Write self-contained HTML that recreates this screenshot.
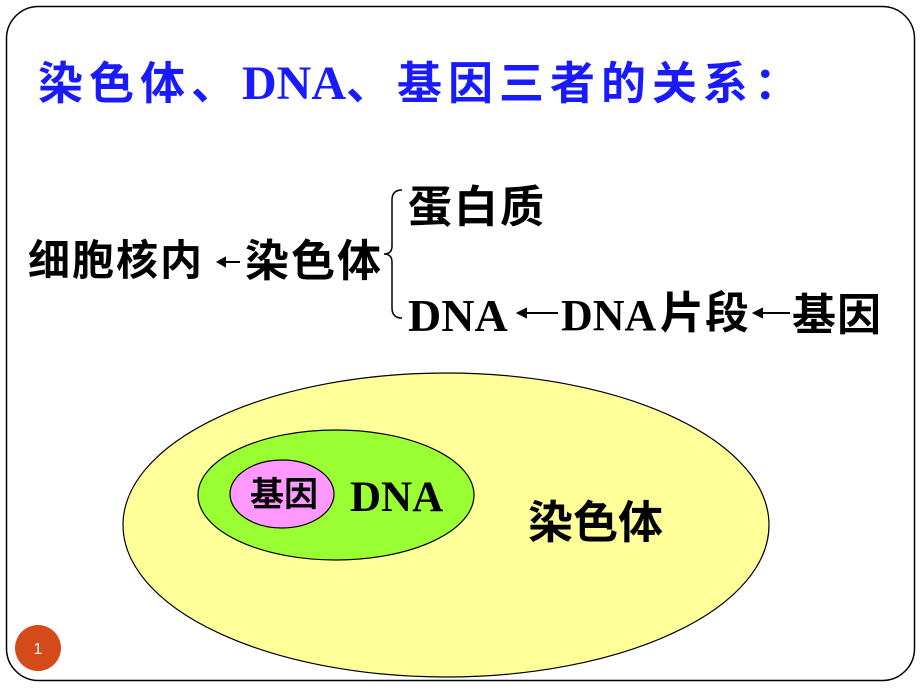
<!DOCTYPE html>
<html><head><meta charset="utf-8"><style>
body{margin:0;width:920px;height:690px;background:#fff;position:relative;overflow:hidden;font-family:"Liberation Sans","Noto Sans CJK SC",sans-serif}
.t{position:absolute;white-space:nowrap;font-weight:bold;line-height:1}
.s{font-family:"Liberation Serif","Noto Sans CJK SC",serif}
</style></head><body>
<svg width="920" height="690" style="position:absolute;left:0;top:0">
<rect x="6.5" y="6.5" width="908" height="674" rx="32" fill="#fff" stroke="#000" stroke-width="1.5"/>
<ellipse cx="446" cy="525" rx="323" ry="152" fill="#ffff99" stroke="#000" stroke-width="1.2"/>
<ellipse cx="336" cy="495" rx="138" ry="65" fill="#99ff33" stroke="#000" stroke-width="1.2"/>
<ellipse cx="282" cy="494" rx="52" ry="34" fill="#ff99ff" stroke="#000" stroke-width="1.2"/>
<path d="M402 190 q-10 0 -10 10 v46 q0 8 -8 8 q8 0 8 8 v46 q0 10 10 10" fill="none" stroke="#000" stroke-width="1.5"/>
<g stroke="#000" stroke-width="2" fill="#000">
<line x1="222" y1="262" x2="240" y2="262"/><path d="M218 262 l7 -4 v8z"/>
<line x1="524" y1="313" x2="558" y2="313"/><path d="M518 313 l8 -4 v8z"/>
<line x1="760" y1="313" x2="790" y2="313"/><path d="M754 313 l8 -4 v8z"/>
</g>
<circle cx="38" cy="648" r="23" fill="#d54a1a"/>
<text x="38" y="654" font-size="16" fill="#fff" text-anchor="middle" font-family="Liberation Sans">1</text>
</svg>
<div class="t" style="left:38px;top:60px;font-size:45px;letter-spacing:6px;color:#1a1aff">染色体、<span class="s" style="font-size:48px;letter-spacing:0">DNA</span>、基因三者的关系：</div>
<div class="t" style="left:28px;top:240px;font-size:42px;letter-spacing:2px">细胞核内</div>
<div class="t" style="left:245px;top:240px;font-size:44px;letter-spacing:2px">染色体</div>
<div class="t" style="left:408px;top:186px;font-size:44px;letter-spacing:2px">蛋白质</div>
<div class="t s" style="left:408px;top:293px;font-size:46px">DNA</div>
<div class="t s" style="left:561px;top:294px;font-size:44px">DNA</div>
<div class="t" style="left:660px;top:292px;font-size:44px;letter-spacing:1px">片段</div>
<div class="t" style="left:792px;top:294px;font-size:44px;letter-spacing:1px">基因</div>
<div class="t" style="left:250px;top:478px;font-size:34px">基因</div>
<div class="t s" style="left:350px;top:476px;font-size:43px">DNA</div>
<div class="t" style="left:528px;top:500px;font-size:45px">染色体</div>
</body></html>
